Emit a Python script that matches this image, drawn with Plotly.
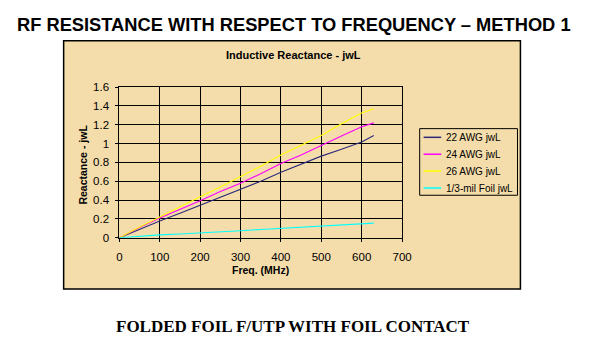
import plotly.graph_objects as go

# Frequency points (MHz)
freq = [0, 50, 100, 150, 200, 250, 300, 350, 400, 450, 500, 550, 600, 630]

# Inductive reactance per conductor
awg22 = [0, 0.09, 0.178, 0.26, 0.343, 0.43, 0.514, 0.60, 0.695, 0.78, 0.867, 0.94, 1.017, 1.085]
awg24 = [0, 0.11, 0.21, 0.30, 0.394, 0.49, 0.58, 0.68, 0.788, 0.88, 0.976, 1.08, 1.18, 1.22]
awg26 = [0, 0.115, 0.22, 0.33, 0.435, 0.54, 0.65, 0.76, 0.88, 0.98, 1.086, 1.21, 1.326, 1.37]
foil = [0, 0.018, 0.03, 0.04, 0.05, 0.062, 0.075, 0.088, 0.10, 0.11, 0.123, 0.137, 0.15, 0.155]

series_names = ["22 AWG jwL", "24 AWG jwL", "26 AWG jwL", "1/3-mil Foil jwL"]
series_vals = [awg22, awg24, awg26, foil]
series_colors = ["#2B2B7A", "#FF00FF", "#FFFF00", "#00FFFF"]

W, H = 594, 349


def px(x):
    return x / W


def py(y):
    return 1 - y / H


font = "Liberation Sans, Arial, sans-serif"

fig = go.Figure()
for name, vals, col in zip(series_names, series_vals, series_colors):
    fig.add_trace(go.Scatter(x=freq, y=vals, mode="lines", name=name,
                             line=dict(color=col, width=1.1), showlegend=False))

# Chart frame
shapes = [dict(type="rect", xref="paper", yref="paper",
               x0=px(62), x1=px(529), y0=py(293), y1=py(36),
               fillcolor="#F5DDAB", line=dict(color="black", width=1.5),
               layer="below")]

# Legend box with line samples and labels
shapes.append(dict(type="rect", xref="paper", yref="paper",
                   x0=px(426), x1=px(526), y0=py(196), y1=py(127),
                   fillcolor="rgba(0,0,0,0)", line=dict(color="black", width=1)))
legend_rows = [136, 153.5, 171, 188.5]
annotations = []
for name, col, ry in zip(series_names, series_colors, legend_rows):
    shapes.append(dict(type="line", xref="paper", yref="paper",
                       x0=px(430), x1=px(448), y0=py(ry), y1=py(ry),
                       line=dict(color=col, width=1.5)))
    annotations.append(dict(text=name, x=px(451), y=py(ry), xref="paper", yref="paper",
                            xanchor="left", yanchor="middle", showarrow=False,
                            font=dict(family=font, size=10, color="black")))

annotations += [
    dict(text="<b>RF RESISTANCE WITH RESPECT TO FREQUENCY – METHOD 1</b>",
         x=px(297), y=py(19), xref="paper", yref="paper", yanchor="middle",
         showarrow=False, font=dict(family=font, size=18.3, color="black")),
    dict(text="<b>Inductive Reactance - jwL</b>",
         x=px(297), y=py(51), xref="paper", yref="paper", yanchor="middle",
         showarrow=False, font=dict(family=font, size=11, color="black")),
    dict(text="<b>Reactance - jwL</b>", textangle=-90,
         x=px(82), y=py(164), xref="paper", yref="paper",
         xanchor="center", yanchor="middle",
         showarrow=False, font=dict(family=font, size=10.5, color="black")),
    dict(text="<b>Freq. (MHz)</b>",
         x=px(263), y=py(273), xref="paper", yref="paper", yanchor="middle",
         showarrow=False, font=dict(family=font, size=10.5, color="black")),
    dict(text="<b>FOLDED FOIL F/UTP WITH FOIL CONTACT</b>",
         x=px(296), y=py(332), xref="paper", yref="paper", yanchor="middle",
         showarrow=False,
         font=dict(family="Liberation Serif, Times New Roman, serif", size=17, color="black")),
]

fig.update_layout(
    width=W, height=H,
    margin=dict(l=0, r=0, t=0, b=0),
    paper_bgcolor="white",
    plot_bgcolor="#C0C0C0",
    font=dict(family=font, size=11, color="black"),
    showlegend=False,
    xaxis=dict(domain=[px(119), px(408)], range=[0, 700], dtick=100,
               showgrid=True, gridcolor="black", gridwidth=1,
               showline=True, linecolor="black", mirror=True,
               zeroline=False, ticks="outside", ticklen=3, tickcolor="black",
               ticklabelstandoff=5, tickfont=dict(size=11.5)),
    yaxis=dict(domain=[py(240), py(84)], range=[0, 1.6], dtick=0.2,
               showgrid=True, gridcolor="black", gridwidth=1,
               showline=True, linecolor="black", mirror=True,
               zeroline=False, ticks="outside", ticklen=3, tickcolor="black",
               ticklabelstandoff=4, tickfont=dict(size=11.5)),
    shapes=shapes,
    annotations=annotations,
)

fig.write_html("out.html")
